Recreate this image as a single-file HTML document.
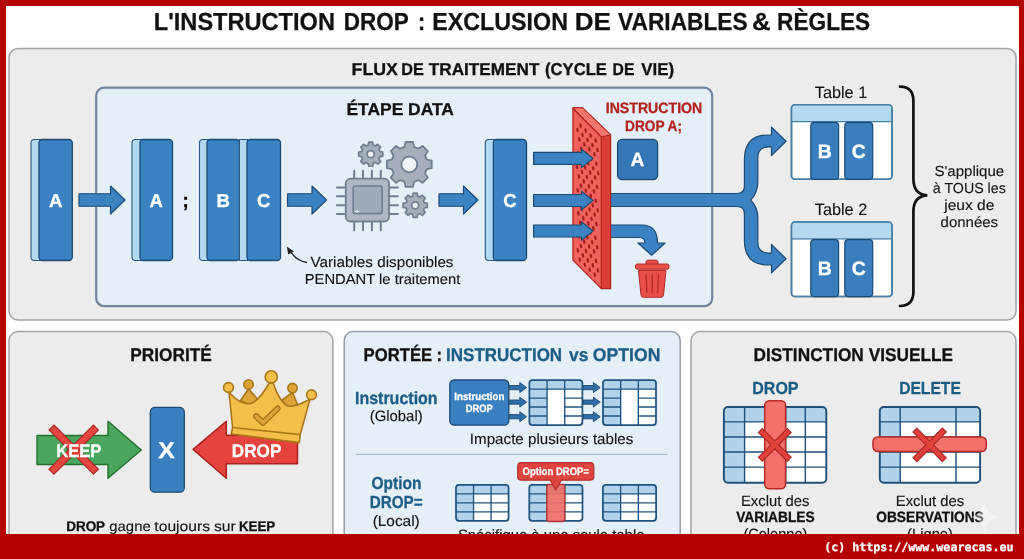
<!DOCTYPE html>
<html lang="fr"><head><meta charset="utf-8"><title>L'instruction DROP</title>
<style>
html,body{margin:0;padding:0;background:#b50000;}
svg{display:block;font-family:"Liberation Sans", sans-serif;will-change:transform;text-rendering:geometricPrecision;}
</style></head><body>
<svg width="1024" height="559" viewBox="0 0 1024 559">
<rect x="0" y="0" width="1024" height="559" fill="#b50000"/>
<rect x="6" y="6" width="1013" height="530" fill="#ffffff"/>
<rect x="9" y="48.5" width="1007" height="271.6" rx="9" fill="#ececec" stroke="#a0a3a7" stroke-width="1.5"/>
<rect x="96.2" y="87.6" width="616" height="218.6" rx="8" fill="#e5eff8" stroke="#72859b" stroke-width="2.2"/>
<rect x="9" y="331.6" width="323.9" height="230" rx="9" fill="#ececec" stroke="#a0a3a7" stroke-width="1.5"/>
<rect x="344.2" y="331.6" width="336" height="230" rx="9" fill="#e5eff8" stroke="#929ba5" stroke-width="1.5"/>
<rect x="691" y="331.6" width="325" height="230" rx="9" fill="#ececec" stroke="#a0a3a7" stroke-width="1.5"/>
<text y="29.9" font-size="24.6" font-weight="bold" fill="#111" stroke="#111" stroke-width="0.25"><tspan x="153.80" textLength="181.15" lengthAdjust="spacingAndGlyphs">L'INSTRUCTION</tspan> <tspan x="343.80" textLength="64.65" lengthAdjust="spacingAndGlyphs">DROP</tspan> <tspan x="418.05" textLength="7.15" lengthAdjust="spacingAndGlyphs">:</tspan> <tspan x="432.30" textLength="135.65" lengthAdjust="spacingAndGlyphs">EXCLUSION</tspan> <tspan x="574.80" textLength="36.15" lengthAdjust="spacingAndGlyphs">DE</tspan> <tspan x="618.05" textLength="129.65" lengthAdjust="spacingAndGlyphs">VARIABLES</tspan> <tspan x="752.05" textLength="18.65" lengthAdjust="spacingAndGlyphs">&amp;</tspan> <tspan x="777.05" textLength="93.15" lengthAdjust="spacingAndGlyphs">RÈGLES</tspan></text>
<text y="74.9" font-size="17.2" font-weight="bold" fill="#111" stroke="#111" stroke-width="0.3"><tspan x="351.60" textLength="46.30" lengthAdjust="spacingAndGlyphs">FLUX</tspan> <tspan x="401.35" textLength="22.55" lengthAdjust="spacingAndGlyphs">DE</tspan> <tspan x="428.85" textLength="110.55" lengthAdjust="spacingAndGlyphs">TRAITEMENT</tspan> <tspan x="545.10" textLength="61.80" lengthAdjust="spacingAndGlyphs">(CYCLE</tspan> <tspan x="612.60" textLength="21.80" lengthAdjust="spacingAndGlyphs">DE</tspan> <tspan x="641.35" textLength="32.80" lengthAdjust="spacingAndGlyphs">VIE)</tspan></text>
<text x="400.2" y="115" font-size="17.2" font-weight="bold" fill="#111" text-anchor="middle" textLength="107.5" lengthAdjust="spacingAndGlyphs" stroke="#111" stroke-width="0.3">ÉTAPE DATA</text>
<rect x="31" y="139.5" width="16" height="121.0" rx="3.5" fill="#b3d9f1" stroke="#2a587f" stroke-width="1.1"/>
<rect x="39" y="139.5" width="33.3" height="121.0" rx="3.5" fill="#3a82c2" stroke="#1d4a73" stroke-width="1.3"/>
<text x="55.65" y="207.2" font-size="18.6" font-weight="bold" fill="#ffffff" text-anchor="middle" stroke="#ffffff" stroke-width="0.3">A</text>
<path d="M79,193.75 H110.5 V186.0 L125,200 L110.5,214.0 V206.25 H79 Z" fill="#3a82c2" stroke="#1d4a73" stroke-width="1.2" stroke-linejoin="round"/>
<rect x="132" y="139.5" width="16" height="121.0" rx="3.5" fill="#b3d9f1" stroke="#2a587f" stroke-width="1.1"/>
<rect x="140" y="139.5" width="32.5" height="121.0" rx="3.5" fill="#3a82c2" stroke="#1d4a73" stroke-width="1.3"/>
<text x="156.25" y="207.2" font-size="18.6" font-weight="bold" fill="#ffffff" text-anchor="middle" stroke="#ffffff" stroke-width="0.3">A</text>
<text x="185.5" y="206.5" font-size="20" font-weight="bold" fill="#111" text-anchor="middle" stroke="#111" stroke-width="0.3">;</text>
<rect x="199.5" y="139.5" width="15.5" height="121.0" rx="3.5" fill="#b3d9f1" stroke="#2a587f" stroke-width="1.1"/>
<rect x="207" y="139.5" width="32.5" height="121.0" rx="3.5" fill="#3a82c2" stroke="#1d4a73" stroke-width="1.3"/>
<text x="223.25" y="207.2" font-size="18.6" font-weight="bold" fill="#ffffff" text-anchor="middle" stroke="#ffffff" stroke-width="0.3">B</text>
<rect x="239.5" y="139.5" width="8" height="121" fill="#b3d9f1" stroke="#2a587f" stroke-width="1"/>
<rect x="247" y="139.5" width="33.5" height="121.0" rx="3.5" fill="#3a82c2" stroke="#1d4a73" stroke-width="1.3"/>
<text x="263.75" y="207.2" font-size="18.6" font-weight="bold" fill="#ffffff" text-anchor="middle" stroke="#ffffff" stroke-width="0.3">C</text>
<path d="M287.5,193.75 H312.0 V186.0 L326.5,200 L312.0,214.0 V206.25 H287.5 Z" fill="#3a82c2" stroke="#1d4a73" stroke-width="1.2" stroke-linejoin="round"/>
<path d="M439,193.75 H463.5 V186.0 L478,200 L463.5,214.0 V206.25 H439 Z" fill="#3a82c2" stroke="#1d4a73" stroke-width="1.2" stroke-linejoin="round"/>
<path d="M354.2,170.7 V178.6 M354.2,221.5 V230.3 M363,170.7 V178.6 M363,221.5 V230.3 M371.9,170.7 V178.6 M371.9,221.5 V230.3 M380.8,170.7 V178.6 M380.8,221.5 V230.3 M336.9,187.4 H345.7 M389,187.4 H397.9 M336.9,196.3 H345.7 M389,196.3 H397.9 M336.9,205.2 H345.7 M389,205.2 H397.9 M336.9,214 H345.7 M389,214 H397.9 " stroke="#6f7f90" stroke-width="2" fill="none" stroke-linecap="round"/>
<rect x="345.7" y="178.6" width="43.3" height="42.9" rx="5" fill="#aeb8c4" stroke="#6f7f90" stroke-width="1.8"/>
<rect x="353.2" y="186" width="28.9" height="27.6" rx="2" fill="#a0abb8" stroke="#6f7f90" stroke-width="1.6"/>
<path d="M354.5,211.5 h5 m-2.5,-1.5 v3" stroke="#e8edf2" stroke-width="1.2"/>
<path d="M379.86,151.69 L382.73,152.20 L382.73,156.20 L379.86,156.71 L378.95,158.91 L380.63,161.29 L377.79,164.13 L375.41,162.45 L373.21,163.36 L372.70,166.23 L368.70,166.23 L368.19,163.36 L365.99,162.45 L363.61,164.13 L360.77,161.29 L362.45,158.91 L361.54,156.71 L358.67,156.20 L358.67,152.20 L361.54,151.69 L362.45,149.49 L360.77,147.11 L363.61,144.27 L365.99,145.95 L368.19,145.04 L368.70,142.17 L372.70,142.17 L373.21,145.04 L375.41,145.95 L377.79,144.27 L380.63,147.11 L378.95,149.49 Z" fill="#a4afbb" stroke="#6f7f90" stroke-width="1.7" stroke-linejoin="round"/>
<circle cx="370.7" cy="154.2" r="3.5" fill="#eef3f8" stroke="#6f7f90" stroke-width="1.7"/>
<path d="M426.76,159.62 L431.69,160.67 L431.69,168.13 L426.76,169.18 L425.02,173.37 L427.77,177.60 L422.50,182.87 L418.27,180.12 L414.08,181.86 L413.03,186.79 L405.57,186.79 L404.52,181.86 L400.33,180.12 L396.10,182.87 L390.83,177.60 L393.58,173.37 L391.84,169.18 L386.91,168.13 L386.91,160.67 L391.84,159.62 L393.58,155.43 L390.83,151.20 L396.10,145.93 L400.33,148.68 L404.52,146.94 L405.57,142.01 L413.03,142.01 L414.08,146.94 L418.27,148.68 L422.50,145.93 L427.77,151.20 L425.02,155.43 Z" fill="#a4afbb" stroke="#6f7f90" stroke-width="1.8" stroke-linejoin="round"/>
<circle cx="409.3" cy="164.4" r="7.9" fill="#eef3f8" stroke="#6f7f90" stroke-width="1.8"/>
<path d="M424.36,202.79 L427.33,203.28 L427.33,207.32 L424.36,207.81 L423.45,210.01 L425.21,212.45 L422.35,215.31 L419.91,213.55 L417.71,214.46 L417.22,217.43 L413.18,217.43 L412.69,214.46 L410.49,213.55 L408.05,215.31 L405.19,212.45 L406.95,210.01 L406.04,207.81 L403.07,207.32 L403.07,203.28 L406.04,202.79 L406.95,200.59 L405.19,198.15 L408.05,195.29 L410.49,197.05 L412.69,196.14 L413.18,193.17 L417.22,193.17 L417.71,196.14 L419.91,197.05 L422.35,195.29 L425.21,198.15 L423.45,200.59 Z" fill="#a4afbb" stroke="#6f7f90" stroke-width="1.7" stroke-linejoin="round"/>
<circle cx="415.2" cy="205.3" r="3.5" fill="#eef3f8" stroke="#6f7f90" stroke-width="1.7"/>
<text x="382" y="266.7" font-size="14.7" font-weight="normal" fill="#121212" text-anchor="middle" textLength="143" lengthAdjust="spacingAndGlyphs" stroke="#121212" stroke-width="0.12">Variables disponibles</text>
<text x="382.5" y="283.8" font-size="14.4" font-weight="normal" fill="#121212" text-anchor="middle" textLength="155.5" lengthAdjust="spacingAndGlyphs" stroke="#121212" stroke-width="0.12">PENDANT le traitement</text>
<path d="M307,262.5 Q296,261 289.5,250" stroke="#222" stroke-width="1.3" fill="none"/>
<path d="M286.8,246.5 L294,251.5 L288.2,254.5 Z" fill="#222"/>
<rect x="485.3" y="139.5" width="16.0" height="121.0" rx="3.5" fill="#b3d9f1" stroke="#2a587f" stroke-width="1.1"/>
<rect x="493.3" y="139.5" width="33.19999999999999" height="121.0" rx="3.5" fill="#3a82c2" stroke="#1d4a73" stroke-width="1.3"/>
<text x="509.9" y="207.2" font-size="18.6" font-weight="bold" fill="#ffffff" text-anchor="middle" stroke="#ffffff" stroke-width="0.3">C</text>
<path d="M533.6,152.4 H581.5 V149.15 L593,158.4 L581.5,167.65 V164.4 H533.6 Z" fill="#3a82c2" stroke="#1d4a73" stroke-width="1.2" stroke-linejoin="round"/>
<path d="M533.6,194.5 H581.5 V191.25 L593,200.5 L581.5,209.75 V206.5 H533.6 Z" fill="#3a82c2" stroke="#1d4a73" stroke-width="1.2" stroke-linejoin="round"/>
<path d="M533.6,225.0 H581.5 V221.75 L593,231 L581.5,240.25 V237.0 H533.6 Z" fill="#3a82c2" stroke="#1d4a73" stroke-width="1.2" stroke-linejoin="round"/>
<path d="M604,193.5 H737 Q744.4,193.5 744.4,186 V160 Q744.4,135 768,135 H771.5 V127.1 L786,141.25 L771.5,155.6 V146.9 H768.5 Q757.8,146.9 757.8,158 V182 Q757.8,193 750.6,200 Q757.8,207 757.8,218 V242 Q757.8,253.1 768.5,253.1 H771.5 V244.4 L786,258.75 L771.5,272.9 V265 H768 Q744.4,265 744.4,240 V214 Q744.4,206.5 737,206.5 H604 Z" fill="#3a82c2" stroke="#1d4a73" stroke-width="1.2" stroke-linejoin="round"/>
<path d="M604,225 H642 Q657.5,225 657.5,243 L665.2,243 L651.6,255.2 L638,243 L645,243 Q645,237.5 639,237.5 H604 Z" fill="#3a82c2" stroke="#1d4a73" stroke-width="1.2" stroke-linejoin="round"/>
<polygon points="572.9,107.8 582.5,107.8 610.6,134.8 610.6,288.6 601.3,288.6 601.3,137 572.9,109.6" fill="#dd3d39" stroke="#b32520" stroke-width="1.2" stroke-linejoin="round"/>
<polygon points="572.9,107.8 582.5,107.8 610.6,134.8 601.3,137" fill="#f4746e" stroke="#b32520" stroke-width="1" stroke-linejoin="round"/>
<polygon points="572.9,108.6 601.3,137 601.3,288.6 572.9,260.2" fill="#ef615c" stroke="#b32520" stroke-width="1.2" stroke-linejoin="round"/>
<g fill="#a31d1a"><ellipse cx="580.6" cy="125.6" rx="1.2" ry="2.35" transform="rotate(-12 580.6 125.6)"/><ellipse cx="577.5" cy="130.0" rx="1.2" ry="2.35" transform="rotate(-12 577.5 130.0)"/><ellipse cx="585.6" cy="130.6" rx="1.2" ry="2.35" transform="rotate(-12 585.6 130.6)"/><ellipse cx="582.5" cy="135.0" rx="1.2" ry="2.35" transform="rotate(-12 582.5 135.0)"/><ellipse cx="579.4" cy="139.4" rx="1.2" ry="2.35" transform="rotate(-12 579.4 139.4)"/><ellipse cx="590.6" cy="135.6" rx="1.2" ry="2.35" transform="rotate(-12 590.6 135.6)"/><ellipse cx="587.5" cy="140.0" rx="1.2" ry="2.35" transform="rotate(-12 587.5 140.0)"/><ellipse cx="584.4" cy="144.4" rx="1.2" ry="2.35" transform="rotate(-12 584.4 144.4)"/><ellipse cx="581.3" cy="148.8" rx="1.2" ry="2.35" transform="rotate(-12 581.3 148.8)"/><ellipse cx="578.2" cy="153.2" rx="1.2" ry="2.35" transform="rotate(-12 578.2 153.2)"/><ellipse cx="595.6" cy="140.6" rx="1.2" ry="2.35" transform="rotate(-12 595.6 140.6)"/><ellipse cx="592.5" cy="145.0" rx="1.2" ry="2.35" transform="rotate(-12 592.5 145.0)"/><ellipse cx="589.4" cy="149.4" rx="1.2" ry="2.35" transform="rotate(-12 589.4 149.4)"/><ellipse cx="586.3" cy="153.8" rx="1.2" ry="2.35" transform="rotate(-12 586.3 153.8)"/><ellipse cx="583.2" cy="158.2" rx="1.2" ry="2.35" transform="rotate(-12 583.2 158.2)"/><ellipse cx="580.1" cy="162.6" rx="1.2" ry="2.35" transform="rotate(-12 580.1 162.6)"/><ellipse cx="577.0" cy="167.0" rx="1.2" ry="2.35" transform="rotate(-12 577.0 167.0)"/><ellipse cx="597.5" cy="150.0" rx="1.2" ry="2.35" transform="rotate(-12 597.5 150.0)"/><ellipse cx="594.4" cy="154.4" rx="1.2" ry="2.35" transform="rotate(-12 594.4 154.4)"/><ellipse cx="591.3" cy="158.8" rx="1.2" ry="2.35" transform="rotate(-12 591.3 158.8)"/><ellipse cx="588.2" cy="163.2" rx="1.2" ry="2.35" transform="rotate(-12 588.2 163.2)"/><ellipse cx="585.1" cy="167.6" rx="1.2" ry="2.35" transform="rotate(-12 585.1 167.6)"/><ellipse cx="582.0" cy="172.0" rx="1.2" ry="2.35" transform="rotate(-12 582.0 172.0)"/><ellipse cx="578.9" cy="176.4" rx="1.2" ry="2.35" transform="rotate(-12 578.9 176.4)"/><ellipse cx="596.3" cy="163.8" rx="1.2" ry="2.35" transform="rotate(-12 596.3 163.8)"/><ellipse cx="593.2" cy="168.2" rx="1.2" ry="2.35" transform="rotate(-12 593.2 168.2)"/><ellipse cx="590.1" cy="172.6" rx="1.2" ry="2.35" transform="rotate(-12 590.1 172.6)"/><ellipse cx="587.0" cy="177.0" rx="1.2" ry="2.35" transform="rotate(-12 587.0 177.0)"/><ellipse cx="583.9" cy="181.4" rx="1.2" ry="2.35" transform="rotate(-12 583.9 181.4)"/><ellipse cx="580.8" cy="185.8" rx="1.2" ry="2.35" transform="rotate(-12 580.8 185.8)"/><ellipse cx="577.7" cy="190.2" rx="1.2" ry="2.35" transform="rotate(-12 577.7 190.2)"/><ellipse cx="598.2" cy="173.2" rx="1.2" ry="2.35" transform="rotate(-12 598.2 173.2)"/><ellipse cx="595.1" cy="177.6" rx="1.2" ry="2.35" transform="rotate(-12 595.1 177.6)"/><ellipse cx="592.0" cy="182.0" rx="1.2" ry="2.35" transform="rotate(-12 592.0 182.0)"/><ellipse cx="588.9" cy="186.4" rx="1.2" ry="2.35" transform="rotate(-12 588.9 186.4)"/><ellipse cx="585.8" cy="190.8" rx="1.2" ry="2.35" transform="rotate(-12 585.8 190.8)"/><ellipse cx="582.7" cy="195.2" rx="1.2" ry="2.35" transform="rotate(-12 582.7 195.2)"/><ellipse cx="579.6" cy="199.6" rx="1.2" ry="2.35" transform="rotate(-12 579.6 199.6)"/><ellipse cx="597.0" cy="187.0" rx="1.2" ry="2.35" transform="rotate(-12 597.0 187.0)"/><ellipse cx="593.9" cy="191.4" rx="1.2" ry="2.35" transform="rotate(-12 593.9 191.4)"/><ellipse cx="590.8" cy="195.8" rx="1.2" ry="2.35" transform="rotate(-12 590.8 195.8)"/><ellipse cx="587.7" cy="200.2" rx="1.2" ry="2.35" transform="rotate(-12 587.7 200.2)"/><ellipse cx="584.6" cy="204.6" rx="1.2" ry="2.35" transform="rotate(-12 584.6 204.6)"/><ellipse cx="581.5" cy="209.0" rx="1.2" ry="2.35" transform="rotate(-12 581.5 209.0)"/><ellipse cx="578.4" cy="213.4" rx="1.2" ry="2.35" transform="rotate(-12 578.4 213.4)"/><ellipse cx="595.8" cy="200.8" rx="1.2" ry="2.35" transform="rotate(-12 595.8 200.8)"/><ellipse cx="592.7" cy="205.2" rx="1.2" ry="2.35" transform="rotate(-12 592.7 205.2)"/><ellipse cx="589.6" cy="209.6" rx="1.2" ry="2.35" transform="rotate(-12 589.6 209.6)"/><ellipse cx="586.5" cy="214.0" rx="1.2" ry="2.35" transform="rotate(-12 586.5 214.0)"/><ellipse cx="583.4" cy="218.4" rx="1.2" ry="2.35" transform="rotate(-12 583.4 218.4)"/><ellipse cx="580.3" cy="222.8" rx="1.2" ry="2.35" transform="rotate(-12 580.3 222.8)"/><ellipse cx="577.2" cy="227.2" rx="1.2" ry="2.35" transform="rotate(-12 577.2 227.2)"/><ellipse cx="597.7" cy="210.2" rx="1.2" ry="2.35" transform="rotate(-12 597.7 210.2)"/><ellipse cx="594.6" cy="214.6" rx="1.2" ry="2.35" transform="rotate(-12 594.6 214.6)"/><ellipse cx="591.5" cy="219.0" rx="1.2" ry="2.35" transform="rotate(-12 591.5 219.0)"/><ellipse cx="588.4" cy="223.4" rx="1.2" ry="2.35" transform="rotate(-12 588.4 223.4)"/><ellipse cx="585.3" cy="227.8" rx="1.2" ry="2.35" transform="rotate(-12 585.3 227.8)"/><ellipse cx="582.2" cy="232.2" rx="1.2" ry="2.35" transform="rotate(-12 582.2 232.2)"/><ellipse cx="579.1" cy="236.6" rx="1.2" ry="2.35" transform="rotate(-12 579.1 236.6)"/><ellipse cx="596.5" cy="224.0" rx="1.2" ry="2.35" transform="rotate(-12 596.5 224.0)"/><ellipse cx="593.4" cy="228.4" rx="1.2" ry="2.35" transform="rotate(-12 593.4 228.4)"/><ellipse cx="590.3" cy="232.8" rx="1.2" ry="2.35" transform="rotate(-12 590.3 232.8)"/><ellipse cx="587.2" cy="237.2" rx="1.2" ry="2.35" transform="rotate(-12 587.2 237.2)"/><ellipse cx="584.1" cy="241.6" rx="1.2" ry="2.35" transform="rotate(-12 584.1 241.6)"/><ellipse cx="581.0" cy="246.0" rx="1.2" ry="2.35" transform="rotate(-12 581.0 246.0)"/><ellipse cx="577.9" cy="250.4" rx="1.2" ry="2.35" transform="rotate(-12 577.9 250.4)"/><ellipse cx="595.3" cy="237.8" rx="1.2" ry="2.35" transform="rotate(-12 595.3 237.8)"/><ellipse cx="592.2" cy="242.2" rx="1.2" ry="2.35" transform="rotate(-12 592.2 242.2)"/><ellipse cx="589.1" cy="246.6" rx="1.2" ry="2.35" transform="rotate(-12 589.1 246.6)"/><ellipse cx="586.0" cy="251.0" rx="1.2" ry="2.35" transform="rotate(-12 586.0 251.0)"/><ellipse cx="582.9" cy="255.4" rx="1.2" ry="2.35" transform="rotate(-12 582.9 255.4)"/><ellipse cx="579.8" cy="259.8" rx="1.2" ry="2.35" transform="rotate(-12 579.8 259.8)"/><ellipse cx="597.2" cy="247.2" rx="1.2" ry="2.35" transform="rotate(-12 597.2 247.2)"/><ellipse cx="594.1" cy="251.6" rx="1.2" ry="2.35" transform="rotate(-12 594.1 251.6)"/><ellipse cx="591.0" cy="256.0" rx="1.2" ry="2.35" transform="rotate(-12 591.0 256.0)"/><ellipse cx="587.9" cy="260.4" rx="1.2" ry="2.35" transform="rotate(-12 587.9 260.4)"/><ellipse cx="584.8" cy="264.8" rx="1.2" ry="2.35" transform="rotate(-12 584.8 264.8)"/><ellipse cx="596.0" cy="261.0" rx="1.2" ry="2.35" transform="rotate(-12 596.0 261.0)"/><ellipse cx="592.9" cy="265.4" rx="1.2" ry="2.35" transform="rotate(-12 592.9 265.4)"/><ellipse cx="589.8" cy="269.8" rx="1.2" ry="2.35" transform="rotate(-12 589.8 269.8)"/><ellipse cx="597.9" cy="270.4" rx="1.2" ry="2.35" transform="rotate(-12 597.9 270.4)"/><ellipse cx="594.8" cy="274.8" rx="1.2" ry="2.35" transform="rotate(-12 594.8 274.8)"/></g>
<path d="M572.5,152.4 H581.5 V149.15 L593,158.4 L581.5,167.65 V164.4 H572.5 Z" fill="#3a82c2" stroke="#1d4a73" stroke-width="1.2" stroke-linejoin="round"/>
<rect x="571.5" y="153.0" width="3" height="10.8" fill="#3a82c2"/>
<path d="M572.5,194.5 H581.5 V191.25 L593,200.5 L581.5,209.75 V206.5 H572.5 Z" fill="#3a82c2" stroke="#1d4a73" stroke-width="1.2" stroke-linejoin="round"/>
<rect x="571.5" y="195.1" width="3" height="10.8" fill="#3a82c2"/>
<path d="M572.5,225 H581.5 V221.75 L593,231 L581.5,240.25 V237 H572.5 Z" fill="#3a82c2" stroke="#1d4a73" stroke-width="1.2" stroke-linejoin="round"/>
<rect x="571.5" y="225.6" width="3" height="10.8" fill="#3a82c2"/>
<text x="654" y="113.3" font-size="15" font-weight="bold" fill="#b3211e" text-anchor="middle" textLength="96.5" lengthAdjust="spacingAndGlyphs" stroke="#b3211e" stroke-width="0.3">INSTRUCTION</text>
<text x="653.5" y="130.6" font-size="15" font-weight="bold" fill="#b3211e" text-anchor="middle" textLength="57" lengthAdjust="spacingAndGlyphs" stroke="#b3211e" stroke-width="0.3">DROP A;</text>
<rect x="617.6" y="139.4" width="40" height="40.2" rx="4.5" fill="#3577b6" stroke="#1d4a73" stroke-width="1.3"/>
<text x="637.5" y="166.3" font-size="19.2" font-weight="bold" fill="#fff" text-anchor="middle" stroke="#fff" stroke-width="0.3">A</text>
<path d="M646,264.5 V262 Q646,260.2 648,260.2 H656 Q658,260.2 658,262 V264.5 Z" fill="#ea504b" stroke="#b02824" stroke-width="1"/>
<rect x="635.5" y="264" width="33.5" height="5.2" rx="1.8" fill="#ea504b" stroke="#b02824" stroke-width="1"/>
<path d="M638.5,270.5 H666 L663.5,295 Q663.3,297.3 661,297.3 H643.5 Q641.2,297.3 641,295 Z" fill="#ea504b" stroke="#b02824" stroke-width="1"/>
<path d="M646,275 L646.8,292.5 M652.2,275 V292.5 M658.5,275 L657.7,292.5" stroke="#b52b27" stroke-width="1.3" stroke-linecap="round" fill="none"/>
<text x="841" y="98.10000000000001" font-size="16.5" font-weight="normal" fill="#121212" text-anchor="middle" textLength="52.5" lengthAdjust="spacingAndGlyphs" stroke="#121212" stroke-width="0.12">Table 1</text>
<rect x="791.5" y="104.8" width="100.5" height="74.5" rx="3.5" fill="#ffffff" stroke="#4580a9" stroke-width="1.6"/>
<path d="M792.3,121.3 V108.8 Q792.3,105.6 795.5,105.6 H888 Q891.2,105.6 891.2,108.8 V121.3 Z" fill="#b5d9ef"/>
<path d="M791.5,121.6 H892" stroke="#4580a9" stroke-width="1.3"/>
<rect x="791.5" y="104.8" width="100.5" height="74.5" rx="3.5" fill="none" stroke="#4580a9" stroke-width="1.6"/>
<rect x="810.8" y="122.4" width="27.800000000000068" height="57" rx="3.5" fill="#3a7ebe" stroke="#1d4a73" stroke-width="1.2"/>
<text x="824.7" y="157.8" font-size="19.4" font-weight="bold" fill="#fff" text-anchor="middle" stroke="#fff" stroke-width="0.3">B</text>
<rect x="844.8" y="122.4" width="27.90000000000009" height="57" rx="3.5" fill="#3a7ebe" stroke="#1d4a73" stroke-width="1.2"/>
<text x="858.75" y="157.8" font-size="19.4" font-weight="bold" fill="#fff" text-anchor="middle" stroke="#fff" stroke-width="0.3">C</text>
<text x="841" y="215.2" font-size="16.5" font-weight="normal" fill="#121212" text-anchor="middle" textLength="52.5" lengthAdjust="spacingAndGlyphs" stroke="#121212" stroke-width="0.12">Table 2</text>
<rect x="791.5" y="222" width="100.5" height="74.5" rx="3.5" fill="#ffffff" stroke="#4580a9" stroke-width="1.6"/>
<path d="M792.3,238.5 V226 Q792.3,222.8 795.5,222.8 H888 Q891.2,222.8 891.2,226 V238.5 Z" fill="#b5d9ef"/>
<path d="M791.5,238.8 H892" stroke="#4580a9" stroke-width="1.3"/>
<rect x="791.5" y="222" width="100.5" height="74.5" rx="3.5" fill="none" stroke="#4580a9" stroke-width="1.6"/>
<rect x="810.8" y="239.6" width="27.800000000000068" height="57" rx="3.5" fill="#3a7ebe" stroke="#1d4a73" stroke-width="1.2"/>
<text x="824.7" y="275" font-size="19.4" font-weight="bold" fill="#fff" text-anchor="middle" stroke="#fff" stroke-width="0.3">B</text>
<rect x="844.8" y="239.6" width="27.90000000000009" height="57" rx="3.5" fill="#3a7ebe" stroke="#1d4a73" stroke-width="1.2"/>
<text x="858.75" y="275" font-size="19.4" font-weight="bold" fill="#fff" text-anchor="middle" stroke="#fff" stroke-width="0.3">C</text>
<path d="M900,86.6 Q913.4,86.6 913.4,101 V179 Q913.4,194.6 927.3,195.3 Q913.4,196 913.4,211.5 V291.5 Q913.4,306 900,306" fill="none" stroke="#111" stroke-width="2.7" stroke-linecap="round"/>
<text x="969.3" y="176.3" font-size="14.6" font-weight="normal" fill="#121212" text-anchor="middle" textLength="69.8" lengthAdjust="spacingAndGlyphs" stroke="#121212" stroke-width="0.12">S'applique</text>
<text x="969.3" y="193.3" font-size="14.6" font-weight="normal" fill="#121212" text-anchor="middle" textLength="73" lengthAdjust="spacingAndGlyphs" stroke="#121212" stroke-width="0.12">à TOUS les</text>
<text x="969.3" y="210.3" font-size="14.6" font-weight="normal" fill="#121212" text-anchor="middle" textLength="50" lengthAdjust="spacingAndGlyphs" stroke="#121212" stroke-width="0.12">jeux de</text>
<text x="969.3" y="227.3" font-size="14.6" font-weight="normal" fill="#121212" text-anchor="middle" textLength="57.5" lengthAdjust="spacingAndGlyphs" stroke="#121212" stroke-width="0.12">données</text>
<text x="171" y="360.8" font-size="18.4" font-weight="bold" fill="#111" text-anchor="middle" textLength="81.5" lengthAdjust="spacingAndGlyphs" stroke="#111" stroke-width="0.3">PRIORITÉ</text>
<path d="M37,435.5 H108 V421.3 L141.3,450 L108,478.3 V464.5 H37 Z" fill="#4aa65c" stroke="#22702f" stroke-width="1.4" stroke-linejoin="round"/>
<path d="M54,430 L93.4,469.2 M93.4,430 L54,469.2" stroke="#a82824" stroke-width="8.2" stroke-linecap="square"/>
<path d="M54,430 L93.4,469.2 M93.4,430 L54,469.2" stroke="#e2463f" stroke-width="6" stroke-linecap="square"/>
<text x="78.8" y="456.9" font-size="18.2" font-weight="bold" fill="#ffffff" text-anchor="middle" textLength="45.2" lengthAdjust="spacingAndGlyphs" stroke="#ffffff" stroke-width="0.3">KEEP</text>
<rect x="150.3" y="407.4" width="34" height="84.8" rx="4.5" fill="#3a80c1" stroke="#1d4a73" stroke-width="1.3"/>
<text x="166.6" y="458.3" font-size="22.5" font-weight="bold" fill="#fff" text-anchor="middle" textLength="16.5" lengthAdjust="spacingAndGlyphs" stroke="#fff" stroke-width="0.3">X</text>
<path d="M297.5,435.2 H226.3 V421.3 L193.1,449.4 L226.3,478.2 V463.7 H297.5 Z" fill="#e4433e" stroke="#a8231f" stroke-width="1.5" stroke-linejoin="round"/>
<text x="256.6" y="456.9" font-size="18.2" font-weight="bold" fill="#ffffff" text-anchor="middle" textLength="49.6" lengthAdjust="spacingAndGlyphs" stroke="#ffffff" stroke-width="0.3">DROP</text>
<path d="M240.5,400.5 L248.5,389 L258,399.5 L250,405.5 Z" fill="#dca337" stroke="#a87718" stroke-width="1.6" stroke-linejoin="round"/>
<path d="M281.5,400.5 L292.5,392.5 L297.5,404.5 L289,408 Z" fill="#dca337" stroke="#a87718" stroke-width="1.6" stroke-linejoin="round"/>
<circle cx="248.5" cy="384.4" r="4.7" fill="#dca337" stroke="#a87718" stroke-width="1.6"/>
<circle cx="292.5" cy="388.1" r="4.7" fill="#dca337" stroke="#a87718" stroke-width="1.6"/>
<path d="M229,392 C234,398 242,404 249.4,403.8 C256,403.5 264,392 269.3,383 L273.2,383 C277,394 283,406 290,406.3 C297,406.5 304,402 310,399.3 L300.2,434.6 L299.3,442.6 L231.3,434 L232.6,427.5 Z" fill="#f3bf4a" stroke="#a87718" stroke-width="1.6" stroke-linejoin="round"/>
<path d="M232.6,427.5 L300.2,434.6" stroke="#a87718" stroke-width="1.6" fill="none"/>
<circle cx="228.5" cy="387.5" r="4.9" fill="#f3bf4a" stroke="#a87718" stroke-width="1.6"/>
<circle cx="271.25" cy="376.9" r="6.1" fill="#f3bf4a" stroke="#a87718" stroke-width="1.6"/>
<circle cx="311.5" cy="394.75" r="4.9" fill="#f3bf4a" stroke="#a87718" stroke-width="1.6"/>
<path d="M256.2,416.2 L263,422.8 L277.6,408.6" fill="none" stroke="#a87718" stroke-width="6.2" stroke-linecap="round" stroke-linejoin="round"/>
<path d="M256.2,416.2 L263,422.8 L277.6,408.6" fill="none" stroke="#dca337" stroke-width="3.4" stroke-linecap="round" stroke-linejoin="round"/>
<text y="530.6" font-size="14" fill="#111"><tspan x="66.2" textLength="38.9" lengthAdjust="spacingAndGlyphs" font-weight="bold" stroke="#111" stroke-width="0.3">DROP</tspan> <tspan x="109.3" textLength="41.4" lengthAdjust="spacingAndGlyphs" stroke="#111" stroke-width="0.12">gagne</tspan> <tspan x="154.3" textLength="55.8" lengthAdjust="spacingAndGlyphs" stroke="#111" stroke-width="0.12">toujours</tspan> <tspan x="213.9" textLength="21.8" lengthAdjust="spacingAndGlyphs" stroke="#111" stroke-width="0.12">sur</tspan> <tspan x="238.9" textLength="36.4" lengthAdjust="spacingAndGlyphs" font-weight="bold" stroke="#111" stroke-width="0.3">KEEP</tspan></text>
<text y="360.7" font-size="18.4" font-weight="bold" stroke-width="0.3"><tspan x="363.60" textLength="68.55" lengthAdjust="spacingAndGlyphs" fill="#111" stroke="#111">PORTÉE</tspan> <tspan x="436.60" textLength="5.55" lengthAdjust="spacingAndGlyphs" fill="#111" stroke="#111">:</tspan> <tspan x="446.10" textLength="116.05" lengthAdjust="spacingAndGlyphs" fill="#1c5d86" stroke="#1c5d86">INSTRUCTION</tspan> <tspan x="569.10" textLength="19.30" lengthAdjust="spacingAndGlyphs" fill="#1c5d86" stroke="#1c5d86">vs</tspan> <tspan x="592.85" textLength="67.55" lengthAdjust="spacingAndGlyphs" fill="#1c5d86" stroke="#1c5d86">OPTION</tspan></text>
<text x="396.3" y="403.8" font-size="17.5" font-weight="bold" fill="#1c5d86" text-anchor="middle" textLength="82.7" lengthAdjust="spacingAndGlyphs" stroke="#1c5d86" stroke-width="0.3">Instruction</text>
<text x="396.2" y="421.2" font-size="15" font-weight="normal" fill="#121212" text-anchor="middle" textLength="53" lengthAdjust="spacingAndGlyphs" stroke="#121212" stroke-width="0.12">(Global)</text>
<rect x="449.8" y="380" width="59" height="45.2" rx="4.5" fill="#3a7fc0" stroke="#1d4a73" stroke-width="1.3"/>
<text x="479.3" y="400.3" font-size="10.6" font-weight="bold" fill="#fff" text-anchor="middle" textLength="50" lengthAdjust="spacingAndGlyphs" stroke="#fff" stroke-width="0.3">Instruction</text>
<text x="479.3" y="412.2" font-size="10.6" font-weight="bold" fill="#fff" text-anchor="middle" textLength="27" lengthAdjust="spacingAndGlyphs" stroke="#fff" stroke-width="0.3">DROP</text>
<rect x="529.4" y="380.1" width="53" height="44.9" rx="3" fill="#ffffff"/>
<path d="M529.4,389.08000000000004 V383.1 Q529.4,380.1 532.4,380.1 H579.4 Q582.4,380.1 582.4,383.1 V389.08000000000004 Z" fill="#b0d3eb"/>
<path d="M529.4,389.08000000000004 H547.0666666666666 V425.0 H532.4 Q529.4,425.0 529.4,422.0 Z" fill="#b0d3eb"/>
<path d="M547.07,380.1 V425.0 M564.73,380.1 V425.0 M529.4,389.08 H582.4 M529.4,398.06 H547.07 M564.73,398.06 H582.4 M529.4,407.04 H547.07 M564.73,407.04 H582.4 M529.4,416.02 H547.07 M564.73,416.02 H582.4 " stroke="#205380" stroke-width="1.35" fill="none"/>
<rect x="529.4" y="380.1" width="53" height="44.9" rx="3" fill="none" stroke="#205380" stroke-width="1.75"/>
<rect x="603" y="380.1" width="53" height="44.9" rx="3" fill="#ffffff"/>
<path d="M603,389.08000000000004 V383.1 Q603,380.1 606,380.1 H653 Q656,380.1 656,383.1 V389.08000000000004 Z" fill="#b0d3eb"/>
<path d="M603,389.08000000000004 H620.6666666666666 V425.0 H606 Q603,425.0 603,422.0 Z" fill="#b0d3eb"/>
<path d="M620.67,380.1 V425.0 M638.33,380.1 V425.0 M603,389.08 H656 M603,398.06 H620.67 M638.33,398.06 H656 M603,407.04 H620.67 M638.33,407.04 H656 M603,416.02 H620.67 M638.33,416.02 H656 " stroke="#205380" stroke-width="1.35" fill="none"/>
<rect x="603" y="380.1" width="53" height="44.9" rx="3" fill="none" stroke="#205380" stroke-width="1.75"/>
<path d="M509.2,385.5 H519.8000000000001 V382.6 L526.6,387.6 L519.8000000000001,392.6 V389.70000000000005 H509.2 Z" fill="#2f6fa8" stroke="#1d4a73" stroke-width="0.9" stroke-linejoin="round"/>
<path d="M583,385.5 H593.4000000000001 V382.6 L600.2,387.6 L593.4000000000001,392.6 V389.70000000000005 H583 Z" fill="#2f6fa8" stroke="#1d4a73" stroke-width="0.9" stroke-linejoin="round"/>
<path d="M509.2,400.0 H519.8000000000001 V397.1 L526.6,402.1 L519.8000000000001,407.1 V404.20000000000005 H509.2 Z" fill="#2f6fa8" stroke="#1d4a73" stroke-width="0.9" stroke-linejoin="round"/>
<path d="M583,400.0 H593.4000000000001 V397.1 L600.2,402.1 L593.4000000000001,407.1 V404.20000000000005 H583 Z" fill="#2f6fa8" stroke="#1d4a73" stroke-width="0.9" stroke-linejoin="round"/>
<path d="M509.2,414.59999999999997 H519.8000000000001 V411.7 L526.6,416.7 L519.8000000000001,421.7 V418.8 H509.2 Z" fill="#2f6fa8" stroke="#1d4a73" stroke-width="0.9" stroke-linejoin="round"/>
<path d="M583,414.59999999999997 H593.4000000000001 V411.7 L600.2,416.7 L593.4000000000001,421.7 V418.8 H583 Z" fill="#2f6fa8" stroke="#1d4a73" stroke-width="0.9" stroke-linejoin="round"/>
<text x="551.6" y="443.8" font-size="15" font-weight="normal" fill="#121212" text-anchor="middle" textLength="163.5" lengthAdjust="spacingAndGlyphs" stroke="#121212" stroke-width="0.12">Impacte plusieurs tables</text>
<path d="M356,454.3 H667.5" stroke="#a9bccd" stroke-width="1.3"/>
<text x="396.5" y="489.3" font-size="17.5" font-weight="bold" fill="#1c5d86" text-anchor="middle" textLength="50" lengthAdjust="spacingAndGlyphs" stroke="#1c5d86" stroke-width="0.3">Option</text>
<text x="396.2" y="507.8" font-size="17.5" font-weight="bold" fill="#1c5d86" text-anchor="middle" textLength="53" lengthAdjust="spacingAndGlyphs" stroke="#1c5d86" stroke-width="0.3">DROP=</text>
<text x="396.2" y="526.2" font-size="15" font-weight="normal" fill="#121212" text-anchor="middle" textLength="47" lengthAdjust="spacingAndGlyphs" stroke="#121212" stroke-width="0.12">(Local)</text>
<rect x="456" y="484.8" width="52.6" height="36" rx="3" fill="#ffffff"/>
<path d="M456,493.8 V487.8 Q456,484.8 459,484.8 H505.6 Q508.6,484.8 508.6,487.8 V493.8 Z" fill="#b0d3eb"/>
<path d="M456,493.8 H473.53333333333336 V520.8 H459 Q456,520.8 456,517.8 Z" fill="#b0d3eb"/>
<path d="M473.53,484.8 V520.8 M491.07,484.8 V520.8 M456,493.80 H508.6 M456,502.80 H508.6 M456,511.80 H508.6 " stroke="#205380" stroke-width="1.35" fill="none"/>
<rect x="456" y="484.8" width="52.6" height="36" rx="3" fill="none" stroke="#205380" stroke-width="1.75"/>
<rect x="529.3" y="484.8" width="53.2" height="36" rx="3" fill="#ffffff"/>
<path d="M529.3,493.8 V487.8 Q529.3,484.8 532.3,484.8 H579.5 Q582.5,484.8 582.5,487.8 V493.8 Z" fill="#b0d3eb"/>
<path d="M529.3,493.8 H547.0333333333333 V520.8 H532.3 Q529.3,520.8 529.3,517.8 Z" fill="#b0d3eb"/>
<path d="M547.03,484.8 V520.8 M564.77,484.8 V520.8 M529.3,493.80 H582.5 M529.3,502.80 H582.5 M529.3,511.80 H582.5 " stroke="#205380" stroke-width="1.35" fill="none"/>
<rect x="529.3" y="484.8" width="53.2" height="36" rx="3" fill="none" stroke="#205380" stroke-width="1.75"/>
<rect x="602.9" y="484.8" width="53.2" height="36" rx="3" fill="#ffffff"/>
<path d="M602.9,493.8 V487.8 Q602.9,484.8 605.9,484.8 H653.1 Q656.1,484.8 656.1,487.8 V493.8 Z" fill="#b0d3eb"/>
<path d="M602.9,493.8 H620.6333333333333 V520.8 H605.9 Q602.9,520.8 602.9,517.8 Z" fill="#b0d3eb"/>
<path d="M620.63,484.8 V520.8 M638.37,484.8 V520.8 M602.9,493.80 H656.1 M602.9,502.80 H656.1 M602.9,511.80 H656.1 " stroke="#205380" stroke-width="1.35" fill="none"/>
<rect x="602.9" y="484.8" width="53.2" height="36" rx="3" fill="none" stroke="#205380" stroke-width="1.75"/>
<rect x="546.8" y="484.4" width="18" height="37.2" rx="2.5" fill="#ef6a65" fill-opacity="0.9" stroke="#b9302c" stroke-width="1.2"/>
<path d="M521.5,462.6 H590 Q593.8,462.6 593.8,466.4 V476.4 Q593.8,480.2 590,480.2 H561.3 L555.7,490 L550.2,480.2 H521.5 Q517.7,480.2 517.7,476.4 V466.4 Q517.7,462.6 521.5,462.6 Z" fill="#e0443e" stroke="#b52f2a" stroke-width="1.2" stroke-linejoin="round"/>
<text x="555.8" y="475.3" font-size="10.8" font-weight="bold" fill="#fff" text-anchor="middle" textLength="66.5" lengthAdjust="spacingAndGlyphs" stroke="#fff" stroke-width="0.3">Option DROP=</text>
<text x="551.2" y="539.6" font-size="15" font-weight="normal" fill="#121212" text-anchor="middle" textLength="186.5" lengthAdjust="spacingAndGlyphs" stroke="#121212" stroke-width="0.12">Spécifique à une seule table</text>
<text x="853.3" y="360.8" font-size="18.4" font-weight="bold" fill="#111" text-anchor="middle" textLength="199.5" lengthAdjust="spacingAndGlyphs" stroke="#111" stroke-width="0.3">DISTINCTION VISUELLE</text>
<text x="775.4" y="394.3" font-size="17.5" font-weight="bold" fill="#1c5d86" text-anchor="middle" textLength="46.3" lengthAdjust="spacingAndGlyphs" stroke="#1c5d86" stroke-width="0.3">DROP</text>
<text x="930" y="394.3" font-size="17.5" font-weight="bold" fill="#1c5d86" text-anchor="middle" textLength="61.7" lengthAdjust="spacingAndGlyphs" stroke="#1c5d86" stroke-width="0.3">DELETE</text>
<rect x="723.9" y="407" width="102.4" height="75.8" rx="4" fill="#ffffff"/>
<path d="M723.9,421.9 V411 Q723.9,407 727.9,407 H822.3 Q826.3,407 826.3,411 V421.9 Z" fill="#b0d3eb"/>
<path d="M723.9,421.9 H744.6 V482.8 H727.9 Q723.9,482.8 723.9,478.8 Z" fill="#b0d3eb"/>
<path d="M744.6,407 V482.8 M765,407 V482.8 M785.7,407 V482.8 M805.3,407 V482.8 M723.9,421.9 H826.3 M723.9,437 H826.3 M723.9,452 H826.3 M723.9,467.1 H826.3 " stroke="#1f4f7a" stroke-width="1.4" fill="none"/>
<rect x="723.9" y="407" width="102.4" height="75.8" rx="4" fill="none" stroke="#1f4f7a" stroke-width="1.9"/>
<rect x="764.7" y="400.8" width="20.9" height="88" rx="4.5" fill="#f3706b" stroke="#b82a25" stroke-width="1.5"/>
<path d="M762.3,432.4 L787.3,457.3 M787.3,432.4 L762.3,457.3" stroke="#ad2622" stroke-width="6.6" stroke-linecap="square"/>
<path d="M762.3,432.4 L787.3,457.3 M787.3,432.4 L762.3,457.3" stroke="#e0413b" stroke-width="4.4" stroke-linecap="square"/>
<rect x="879.8" y="407" width="100.3" height="75.8" rx="4" fill="#ffffff"/>
<path d="M879.8,421.9 V411 Q879.8,407 883.8,407 H976.0999999999999 Q980.0999999999999,407 980.0999999999999,411 V421.9 Z" fill="#b0d3eb"/>
<path d="M879.8,421.9 H900.2 V482.8 H883.8 Q879.8,482.8 879.8,478.8 Z" fill="#b0d3eb"/>
<path d="M900.2,407 V482.8 M956,407 V482.8 M879.8,421.9 H980.0999999999999 M879.8,437 H980.0999999999999 M879.8,452 H980.0999999999999 M879.8,467.1 H980.0999999999999 " stroke="#1f4f7a" stroke-width="1.4" fill="none"/>
<rect x="879.8" y="407" width="100.3" height="75.8" rx="4" fill="none" stroke="#1f4f7a" stroke-width="1.9"/>
<rect x="873" y="437" width="113.3" height="14.6" rx="4.5" fill="#f3706b" stroke="#b82a25" stroke-width="1.5"/>
<path d="M916.9,432 L942.4,457.8 M942.4,432 L916.9,457.8" stroke="#ad2622" stroke-width="6.6" stroke-linecap="square"/>
<path d="M916.9,432 L942.4,457.8 M942.4,432 L916.9,457.8" stroke="#e0413b" stroke-width="4.4" stroke-linecap="square"/>
<text x="775.2" y="505.8" font-size="15" font-weight="normal" fill="#121212" text-anchor="middle" textLength="68.5" lengthAdjust="spacingAndGlyphs" stroke="#121212" stroke-width="0.12">Exclut des</text>
<text x="775.4" y="522.2" font-size="15" font-weight="bold" fill="#111" text-anchor="middle" textLength="78.5" lengthAdjust="spacingAndGlyphs" stroke="#111" stroke-width="0.3">VARIABLES</text>
<text x="775.4" y="539.2" font-size="15" font-weight="normal" fill="#121212" text-anchor="middle" textLength="64" lengthAdjust="spacingAndGlyphs" stroke="#121212" stroke-width="0.12">(Colonne)</text>
<text x="930" y="505.8" font-size="15" font-weight="normal" fill="#121212" text-anchor="middle" textLength="68.5" lengthAdjust="spacingAndGlyphs" stroke="#121212" stroke-width="0.12">Exclut des</text>
<text x="930" y="522.2" font-size="15" font-weight="bold" fill="#111" text-anchor="middle" textLength="107.5" lengthAdjust="spacingAndGlyphs" stroke="#111" stroke-width="0.3">OBSERVATIONS</text>
<text x="930" y="539.2" font-size="15" font-weight="normal" fill="#121212" text-anchor="middle" textLength="46" lengthAdjust="spacingAndGlyphs" stroke="#121212" stroke-width="0.12">(Ligne)</text>
<path d="M984.5,501.5 Q986.5,515 1000,517 Q986.5,519 984.5,533 Q982.5,519 969,517 Q982.5,515 984.5,501.5 Z" fill="#ffffff" fill-opacity="0.38"/>
<rect x="0" y="534" width="1024" height="25" fill="#b50000"/>
<rect x="0" y="0" width="6" height="559" fill="#b50000"/>
<rect x="1019" y="0" width="5" height="559" fill="#b50000"/>
<text x="1013.5" y="551" font-family='"DejaVu Sans Mono", "Liberation Mono", monospace' font-size="11.6" font-weight="bold" fill="#ffffff" stroke="#ffffff" stroke-width="0.3" text-anchor="end" textLength="189.3" lengthAdjust="spacingAndGlyphs">(c) https://www.wearecas.eu</text>
</svg>
</body></html>
